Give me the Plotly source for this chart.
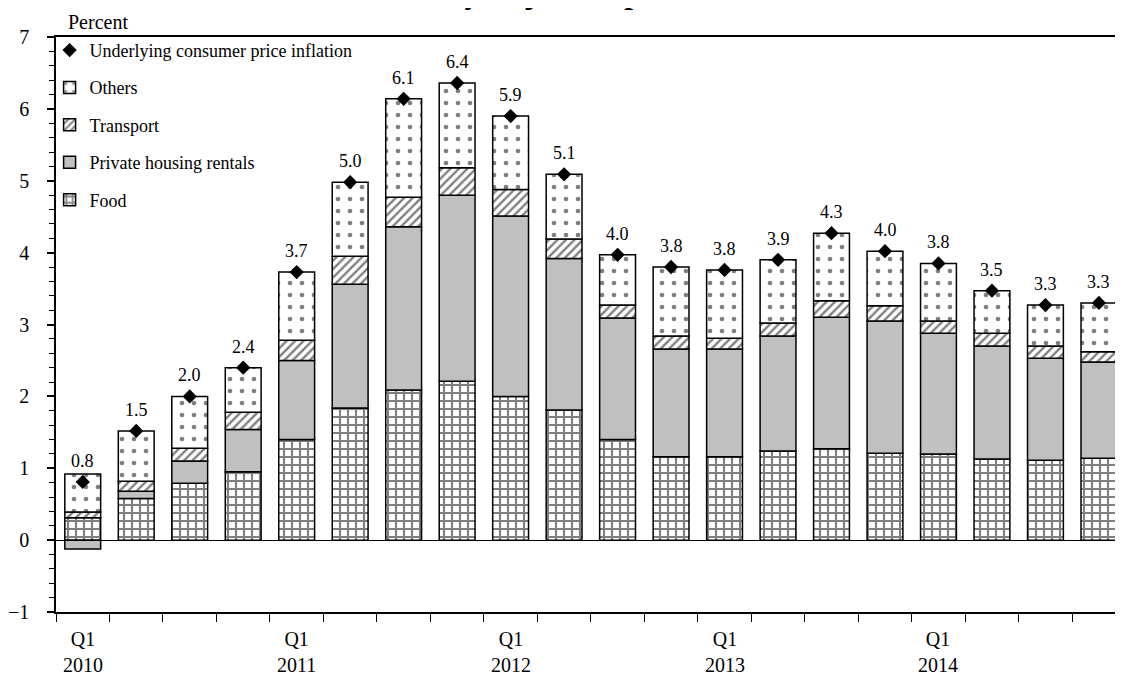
import plotly.graph_objects as go

quarters = ["Q1 2010", "Q2 2010", "Q3 2010", "Q4 2010",
            "Q1 2011", "Q2 2011", "Q3 2011", "Q4 2011",
            "Q1 2012", "Q2 2012", "Q3 2012", "Q4 2012",
            "Q1 2013", "Q2 2013", "Q3 2013", "Q4 2013",
            "Q1 2014", "Q2 2014", "Q3 2014", "Q4 2014"]
food = [0.31, 0.58, 0.79, 0.95, 1.40, 1.84, 2.09, 2.21, 2.00, 1.81,
        1.40, 1.16, 1.16, 1.24, 1.27, 1.21, 1.20, 1.13, 1.11, 1.14]
rentals = [-0.125, 0.10, 0.31, 0.59, 1.10, 1.72, 2.27, 2.59, 2.51, 2.11,
           1.69, 1.50, 1.50, 1.60, 1.83, 1.84, 1.68, 1.57, 1.42, 1.34]
transport = [0.08, 0.14, 0.18, 0.24, 0.28, 0.39, 0.41, 0.38, 0.37, 0.27,
             0.18, 0.18, 0.15, 0.18, 0.23, 0.21, 0.17, 0.18, 0.17, 0.14]
others = [0.53, 0.70, 0.72, 0.62, 0.95, 1.03, 1.37, 1.18, 1.02, 0.90,
          0.70, 0.96, 0.95, 0.88, 0.94, 0.76, 0.80, 0.59, 0.57, 0.68]
inflation = [0.81, 1.52, 2.00, 2.40, 3.73, 4.98, 6.14, 6.36, 5.90, 5.09,
             3.97, 3.80, 3.76, 3.90, 4.27, 4.02, 3.85, 3.47, 3.27, 3.30]
inflation_labels = ["0.8", "1.5", "2.0", "2.4", "3.7", "5.0", "6.1", "6.4", "5.9", "5.1",
                    "4.0", "3.8", "3.8", "3.9", "4.3", "4.0", "3.8", "3.5", "3.3", "3.3"]
year_labels = ["Q1<br>2010", "Q1<br>2011", "Q1<br>2012", "Q1<br>2013", "Q1<br>2014"]
y_ticks = [-1, 0, 1, 2, 3, 4, 5, 6, 7]

FONT = "Times New Roman, Liberation Serif, serif"
xpos = list(range(len(quarters)))
line = dict(color="black", width=1.5)
W = 0.67

fig = go.Figure()
fig.add_trace(go.Bar(x=xpos, y=food, name="Food", width=W, legendgroup="f", legendrank=5,
                     marker=dict(color="white", line=line,
                                 pattern=dict(shape="+", fgcolor="black", bgcolor="white",
                                              size=8, solidity=0.45)),
                     hovertext=quarters))
fig.add_trace(go.Bar(x=xpos, y=rentals, name="Private housing rentals", width=W,
                     legendgroup="r", legendrank=4,
                     marker=dict(color="#c0c0c0", line=line), hovertext=quarters))
fig.add_trace(go.Bar(x=xpos, y=transport, name="Transport", width=W, legendgroup="t", legendrank=3,
                     marker=dict(color="white", line=line,
                                 pattern=dict(shape="/", fgcolor="black", bgcolor="white",
                                              size=6, solidity=0.4)),
                     hovertext=quarters))
fig.add_trace(go.Bar(x=xpos, y=others, name="Others", width=W, legendgroup="o", legendrank=2,
                     marker=dict(color="white", line=line,
                                 pattern=dict(shape=".", fgcolor="black", bgcolor="white",
                                              size=12, solidity=0.12)),
                     hovertext=quarters))
fig.add_trace(go.Scatter(x=xpos, y=inflation, mode="markers", legendgroup="u", legendrank=1,
                         name="Underlying consumer price inflation",
                         marker=dict(symbol="diamond", size=11, color="black"),
                         hovertext=quarters))

annotations = []
for i, (v, t) in enumerate(zip(inflation, inflation_labels)):
    annotations.append(dict(x=i, y=v, xref="x", yref="y", text=t, showarrow=False,
                            yshift=9, yanchor="bottom",
                            font=dict(family=FONT, size=18, color="black")))
for k, lab in enumerate(year_labels):
    annotations.append(dict(x=k * 4, y=0, xref="x", yref="paper", text=lab, showarrow=False,
                            yanchor="top", yshift=-14,
                            font=dict(family=FONT, size=20, color="black")))
annotations.append(dict(x=0, y=1, xref="paper", yref="paper", text="Percent", showarrow=False,
                        xanchor="left", yanchor="bottom", xshift=10, yshift=2,
                        font=dict(family=FONT, size=20, color="black")))
annotations.append(dict(x=0.5, y=1, xref="paper", yref="paper",
                        text="<b><i>Contributions to underlying consumer price inflation<br>by major components</i></b>",
                        showarrow=False, yanchor="bottom", yshift=25,
                        font=dict(family=FONT, size=31, color="black")))

bounds = [i - 0.5 for i in range(len(quarters) + 1)]

# page body has an 8px margin, so the figure is sized/offset to compensate
fig.update_layout(
    width=1115, height=669,
    margin=dict(l=44, r=0, t=29, b=65),
    paper_bgcolor="white", plot_bgcolor="white",
    barmode="relative", bargap=0.33,
    font=dict(family=FONT, color="black"),
    showlegend=True,
    legend=dict(x=-0.006, y=1.009, xanchor="left", yanchor="top", traceorder="grouped",
                font=dict(family=FONT, size=18, color="black"),
                bgcolor="rgba(0,0,0,0)", tracegroupgap=11, itemwidth=30),
    annotations=annotations,
    xaxis=dict(range=[-0.5, 19.45], tickvals=bounds, ticktext=[""] * len(bounds),
               ticks="outside", ticklen=8, tickcolor="black", tickwidth=1,
               showline=True, linecolor="black", linewidth=1.5, mirror=True,
               showgrid=False, zeroline=False),
    yaxis=dict(range=[-1, 7], tickvals=y_ticks, ticks="outside", ticklen=7,
               tickcolor="black", tickwidth=1.5,
               minor=dict(dtick=0.2, ticks="outside", ticklen=5, tickcolor="black", tickwidth=1),
               showline=True, linecolor="black", linewidth=1.5,
               showgrid=False, zeroline=True, zerolinecolor="black", zerolinewidth=1,
               tickfont=dict(family=FONT, size=20, color="black"), ticklabelstandoff=14),
)

fig.write_html("out.html")
